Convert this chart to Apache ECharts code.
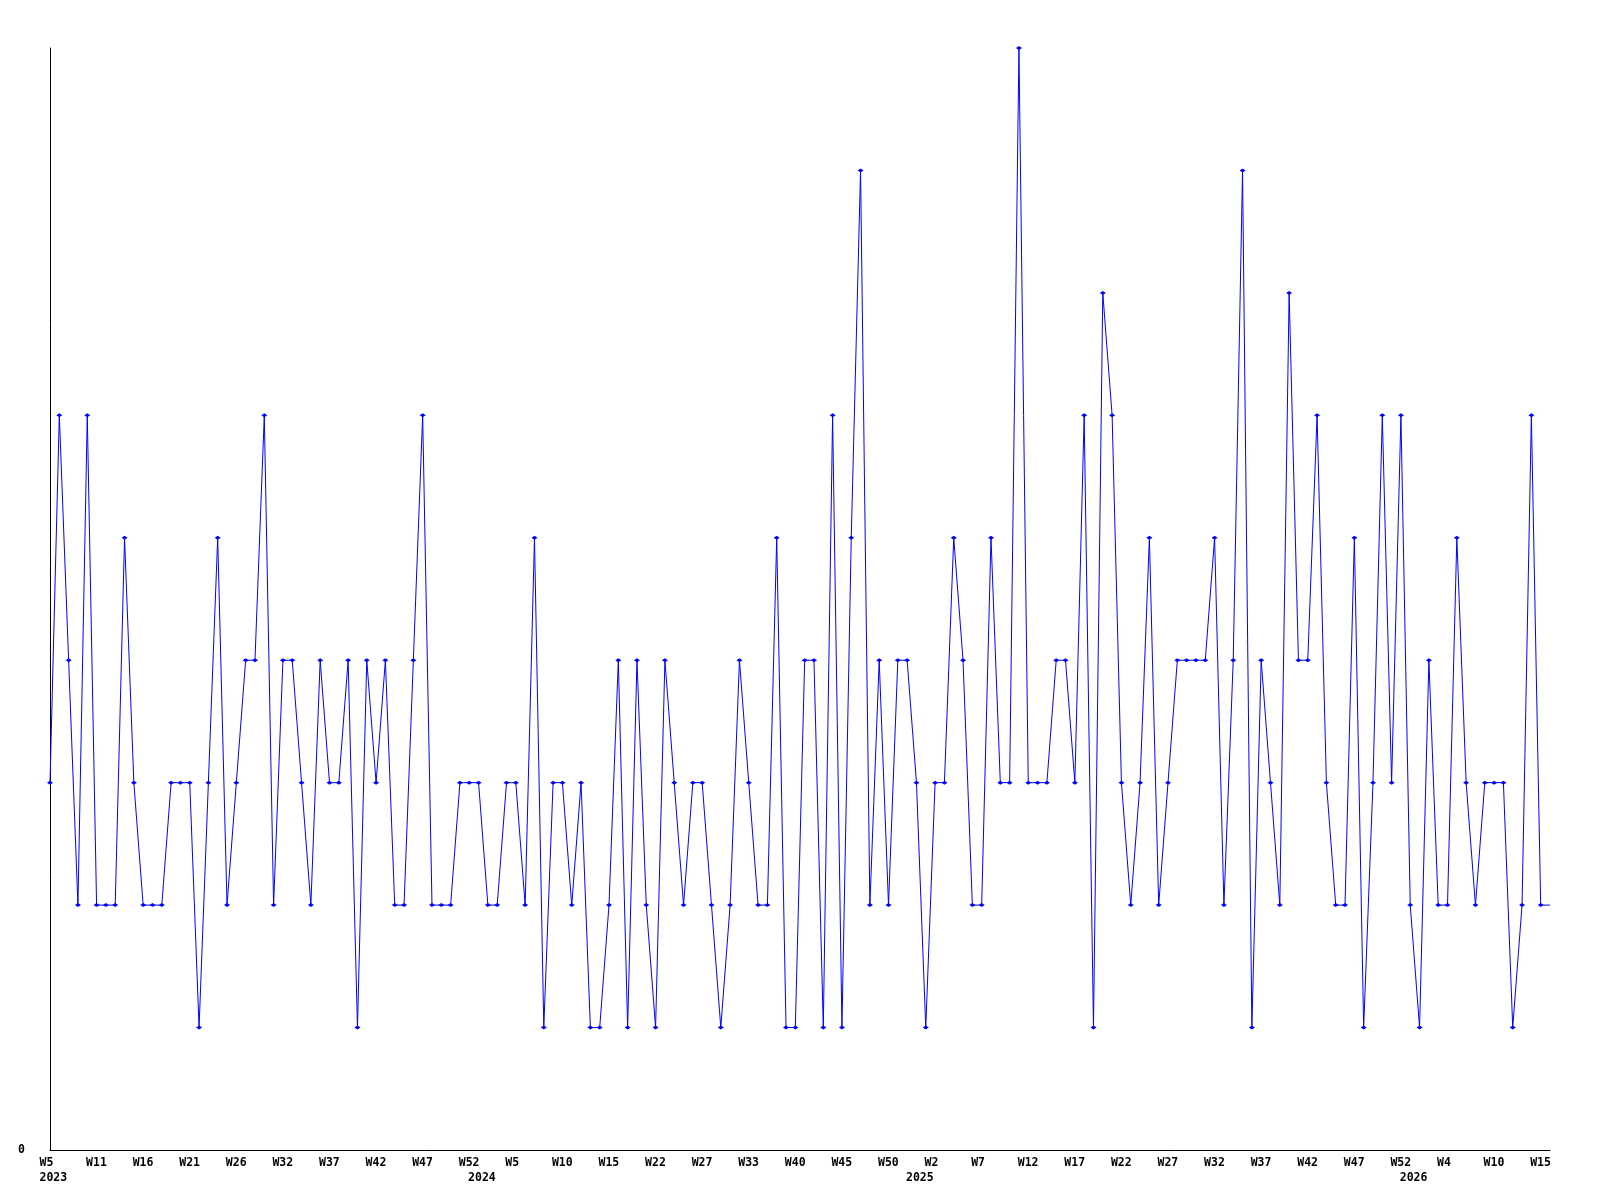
<!DOCTYPE html>
<html>
<head>
<meta charset="utf-8">
<script src="https://cdn.jsdelivr.net/npm/echarts@6/dist/echarts.min.js"></script>
<style>
html,body{margin:0;padding:0;background:#fff;}
#chart{width:1600px;height:1200px;}
</style>
</head>
<body>
<div id="chart"></div>
<script>
// Weekly values (one per plotted point, left to right)
const values = [
  3,6,4,2,6,2,2,2,5,3,2,2,2,3,3,3,1,3,5,2,3,
  4,4,6,2,4,4,3,2,4,3,3,4,1,4,3,4,2,2,4,6,
  2,2,2,3,3,3,2,2,3,3,2,5,1,3,3,2,3,1,1,2,4,
  1,4,2,1,4,3,2,3,3,2,1,2,4,3,2,2,5,1,1,4,
  4,1,6,1,5,8,2,4,2,4,4,3,1,3,3,5,4,2,2,5,3,
  3,9,3,3,3,4,4,3,6,1,7,6,3,2,3,5,2,3,4,4,
  4,4,5,2,4,8,1,4,3,2,7,4,4,6,3,2,2,5,1,3,
  6,3,6,2,1,4,2,2,5,3,2,3,3,3,1,2,6,2
];
// current (partial) period, drawn without a marker
const currentValue = 2;

// Week tick labels, one every 5 points
const weekTicks = ['W5','W11','W16','W21','W26','W32','W37','W42','W47','W52',
  'W5','W10','W15','W22','W27','W33','W40','W45','W50',
  'W2','W7','W12','W17','W22','W27','W32','W37','W42','W47','W52',
  'W4','W10','W15'];
const tickStep = 5;
// Year labels at the point where each year begins
const yearIndex = [0, 46, 93, 146];
const yearLabels = ['2023', '2024', '2025', '2026'];

const n = values.length + 1;
const categories = [];
for (let i = 0; i < n; i++) categories.push(String(i));

const seriesData = values.map(v => v);
seriesData.push({ value: currentValue, symbol: 'none' });

const labelFont = {
  fontFamily: 'DejaVu Sans Mono',
  fontWeight: 'bold',
  fontSize: 11.5,
  color: '#000'
};

const chart = echarts.init(document.getElementById('chart'), null, { renderer: 'canvas' });
chart.setOption({
  animation: false,
  backgroundColor: '#fff',
  grid: { left: 50, right: 50, top: 48, bottom: 50, containLabel: false },
  xAxis: [
    {
      type: 'category',
      data: categories,
      boundaryGap: false,
      axisLine: { show: true, lineStyle: { color: '#000', width: 1 } },
      axisTick: { show: false },
      splitLine: { show: false },
      axisLabel: {
        show: true,
        hideOverlap: false,
        margin: 7,
        interval: (i) => i % tickStep === 0 && (i / tickStep) < weekTicks.length,
        formatter: (v, i) => '{w|' + (weekTicks[i / tickStep] || '') + '}',
        align: 'center',
        rich: { w: Object.assign({ width: 21, align: 'left' }, labelFont) }
      }
    },
    {
      type: 'category',
      data: categories,
      boundaryGap: false,
      position: 'bottom',
      gridIndex: 0,
      axisLine: { show: false },
      axisTick: { show: false },
      splitLine: { show: false },
      axisLabel: {
        show: true,
        hideOverlap: false,
        margin: 22,
        interval: (i) => yearIndex.indexOf(i) >= 0,
        formatter: (v, i) => {
          const k = yearIndex.indexOf(i);
          return k >= 0 ? '{y|' + yearLabels[k] + '}' : '';
        },
        align: 'center',
        rich: { y: Object.assign({ width: 21, align: 'left' }, labelFont) }
      }
    }
  ],
  yAxis: {
    type: 'value',
    min: 0,
    max: 9,
    interval: 9,
    axisLine: { show: true, lineStyle: { color: '#000', width: 1 } },
    axisTick: { show: false },
    splitLine: { show: false },
    axisLabel: Object.assign({ margin: 25, showMaxLabel: false }, labelFont)
  },
  series: [{
    type: 'line',
    xAxisIndex: 0,
    data: seriesData,
    symbol: 'diamond',
    symbolSize: [6, 4],
    showSymbol: true,
    showAllSymbol: true,
    lineStyle: { color: '#0000ff', width: 1 },
    itemStyle: { color: '#0000ff' },
    emphasis: { disabled: true }
  }]
});
</script>
</body>
</html>
